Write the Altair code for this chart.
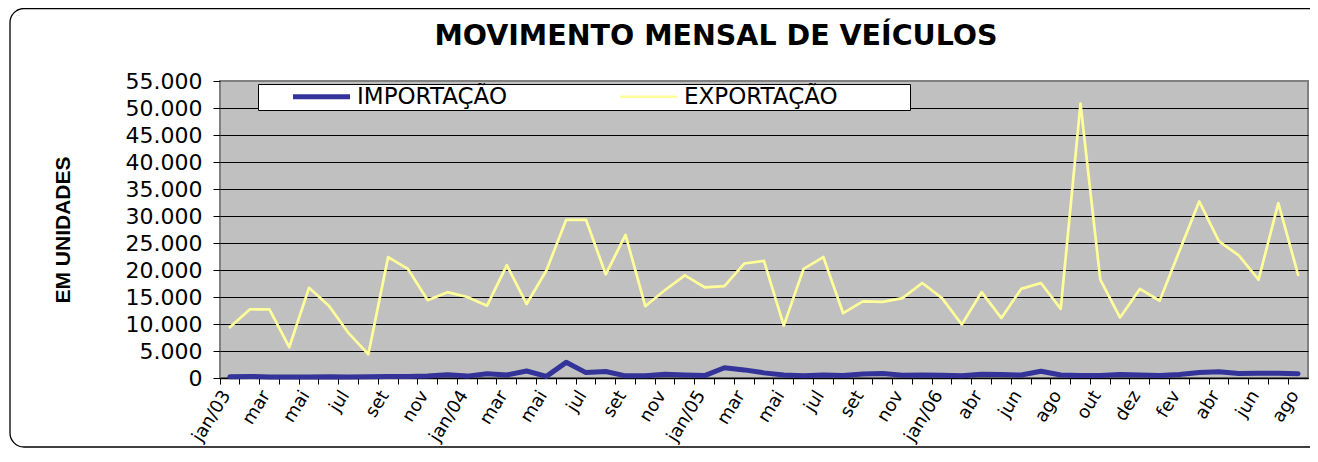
import json
import altair as alt
import pandas as pd

# ---------------- data ----------------
periods = [
    "jan/03", "fev/03", "mar/03", "abr/03", "mai/03", "jun/03", "jul/03", "ago/03", "set/03", "out/03", "nov/03", "dez/03",
    "jan/04", "fev/04", "mar/04", "abr/04", "mai/04", "jun/04", "jul/04", "ago/04", "set/04", "out/04", "nov/04", "dez/04",
    "jan/05", "fev/05", "mar/05", "abr/05", "mai/05", "jun/05", "jul/05", "ago/05", "set/05", "out/05", "nov/05", "dez/05",
    "jan/06", "mar/06", "abr/06", "mai/06", "jun/06", "jul/06", "ago/06", "set/06", "out/06", "nov/06", "dez/06",
    "jan/07", "fev/07", "mar/07", "abr/07", "mai/07", "jun/07", "jul/07", "ago/07",
]

tick_labels = [
    "jan/03", "", "mar", "", "mai", "", "jul", "", "set", "", "nov", "",
    "jan/04", "", "mar", "", "mai", "", "jul", "", "set", "", "nov", "",
    "jan/05", "", "mar", "", "mai", "", "jul", "", "set", "", "nov", "",
    "jan/06", "", "abr", "", "jun", "", "ago", "", "out", "", "dez",
    "", "fev", "", "abr", "", "jun", "", "ago",
]

importacao = [
    250, 300, 200, 200, 200, 250, 200, 250, 300, 300, 350, 600,
    350, 800, 550, 1300, 300, 2900, 1000, 1200, 400, 400, 700, 550,
    450, 1900, 1500, 950, 550, 400, 550, 450, 750, 850, 500, 550,
    500, 400, 700, 650, 550, 1250, 550, 450, 450, 650, 550,
    450, 650, 1000, 1150, 850, 900, 900, 800,
]

exportacao = [
    9400, 12700, 12700, 5700, 16700, 13400, 8300, 4400, 22400, 20200, 14400, 15900,
    15000, 13400, 20900, 13700, 19900, 29300, 29300, 19200, 26500, 13300, 16300, 19000,
    16800, 17000, 21200, 21700, 9700, 20200, 22400, 12000, 14200, 14100, 14800, 17600,
    14800, 9900, 15900, 11100, 16500, 17600, 12800, 50800, 18200, 11200, 16500,
    14300, 23500, 32700, 25300, 22700, 18200, 32400, 19100,
]

series_names = ["IMPORTAÇÃO", "EXPORTAÇÃO"]
series_colors = ["#333399", "#FFFF99"]
series_widths = [5, 2.7]
y_ticks = list(range(0, 55001, 5000))

title_text = "MOVIMENTO MENSAL DE VEÍCULOS"
y_title = "EM UNIDADES"

rows = []
for p, v in zip(periods, importacao):
    rows.append({"periodo": p, "serie": series_names[0], "valor": v})
for p, v in zip(periods, exportacao):
    rows.append({"periodo": p, "serie": series_names[1], "valor": v})
df = pd.DataFrame(rows)

# ---------------- layout ----------------
W, H = 1088, 297

label_expr = f"{json.dumps(tick_labels)}[indexof({json.dumps(periods)}, datum.value)]"

x_enc = alt.X(
    "periodo:O",
    sort=periods,
    bandPosition=0.5,
    scale=alt.Scale(type="band", domain=periods, paddingInner=0, paddingOuter=0),
    axis=alt.Axis(
        title=None,
        bandPosition=0,
        labelOffset=-3,
        labelExpr=label_expr,
        labelAngle=302,
        labelAlign="right",
        labelBaseline="middle",
        labelFont="DejaVu Sans",
        labelFontSize=18,
        labelColor="#000000",
        labelPadding=8,
        labelOverlap=False,
        labelBound=False,
        tickColor="#000000",
        tickSize=6,
        tickWidth=1,
        domainColor="#000000",
        domainWidth=1.5,
        grid=False,
    ),
)

y_enc = alt.Y(
    "valor:Q",
    scale=alt.Scale(domain=[0, 55000], nice=False, zero=True),
    axis=alt.Axis(
        title=y_title,
        titleFont="Liberation Sans",
        titleFontWeight="bold",
        titleFontSize=21,
        titleColor="#000000",
        titleAngle=270,
        titleX=-151,
        titleY=H / 2,
        titleAlign="center",
        titleBaseline="alphabetic",
        values=y_ticks,
        labelExpr="replace(format(datum.value, ',d'), ',', '.')",
        labelFont="DejaVu Sans",
        labelFontSize=22,
        labelColor="#000000",
        labelPadding=11,
        tickColor="#000000",
        tickSize=7,
        tickWidth=1,
        domain=False,
        grid=True,
        gridColor={"condition": {"test": "datum.value >= 55000", "value": "#808080"}, "value": "#000000"},
        gridWidth=1,
        gridOpacity=1,
    ),
)

lines = alt.Chart(df).mark_line(strokeJoin="round", strokeCap="round").encode(
    x=x_enc,
    y=y_enc,
    color=alt.Color(
        "serie:N",
        scale=alt.Scale(domain=series_names, range=series_colors),
        legend=alt.Legend(
            title=None,
            orient="none",
            legendX=38,
            legendY=3,
            direction="horizontal",
            columns=2,
            columnPadding=-17,
            fillColor="#FFFFFF",
            strokeColor="#000000",
            padding=1,
            labelFont="DejaVu Sans",
            labelFontSize=23,
            labelColor="#000000",
            labelLimit=600,
            labelOffset=75,
            symbolType="M-11.5,0M22.5,0H79.5M305.5,0",
            symbolSize=4,
            symbolOffset=0,
        ),
    ),
    strokeWidth=alt.StrokeWidth(
        "serie:N",
        scale=alt.Scale(domain=series_names, range=series_widths),
        legend=alt.Legend(title=None, orient="none", legendX=38, legendY=3),
    ),
    order=alt.Order("serie:N"),
)

one_row = alt.Data(values=[{"k": 1}])

frame = alt.Chart(one_row).mark_rect(
    fill="transparent", stroke="#000000", strokeWidth=1.3, cornerRadius=14
).encode(
    x=alt.value(-210), x2=alt.value(1120), y=alt.value(-72.5), y2=alt.value(366)
)

title = alt.Chart(one_row).mark_text(
    text=title_text,
    font="DejaVu Sans",
    fontWeight="bold",
    fontSize=28.5,
    align="center",
    baseline="alphabetic",
    color="#000000",
).encode(x=alt.value(496), y=alt.value(-36))

chart = (
    alt.layer(frame, lines, title)
    .properties(
        width=W,
        height=H,
        autosize=alt.AutoSizeParams(type="none"),
        padding={"left": 212, "top": 73, "right": 2, "bottom": 70},
        background="#FFFFFF",
    )
    .configure_view(fill="#C0C0C0", stroke="#808080", strokeWidth=2)
)

chart.save("out.html", embed_options={"renderer": "svg", "actions": False})
